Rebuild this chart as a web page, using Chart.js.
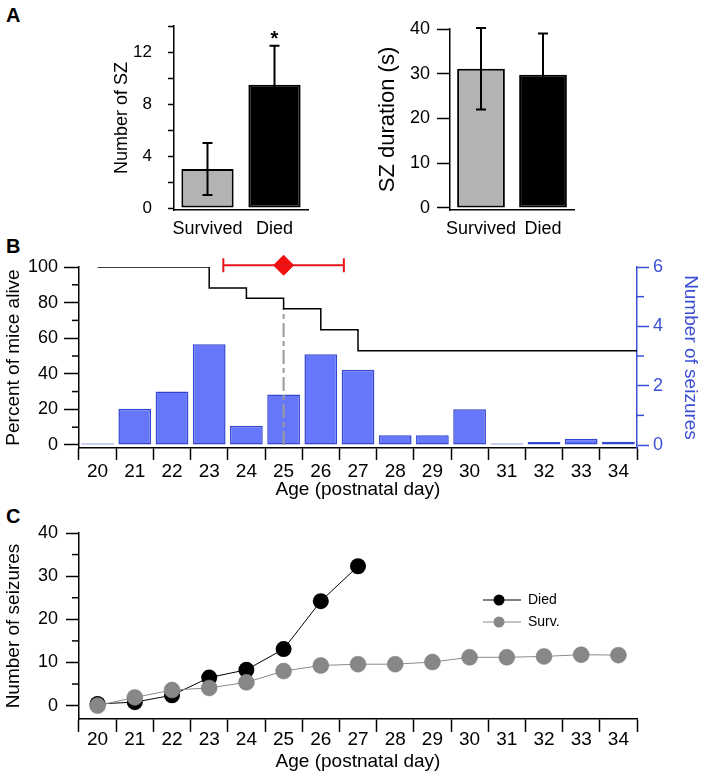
<!DOCTYPE html>
<html>
<head>
<meta charset="utf-8">
<script src="https://cdn.jsdelivr.net/npm/chart.js@4.4.1/dist/chart.umd.min.js"></script>
<style>
  body { margin: 0; background: #fff; width: 704px; height: 779px; position: relative; overflow: hidden; }
  canvas { position: absolute; }
  .lab { position: absolute; font: bold 20px "Liberation Sans", Arial, sans-serif; color: #000; }
</style>
</head>
<body>
<div class="lab" style="left:6px;top:4px">A</div>
<div class="lab" style="left:6px;top:235px">B</div>
<div class="lab" style="left:6px;top:505px">C</div>
<canvas id="szCount" width="340" height="240" style="left:0;top:0"></canvas>
<canvas id="szDuration" width="300" height="240" style="left:340px;top:0"></canvas>
<canvas id="survival" width="704" height="270" style="left:0;top:240px"></canvas>
<canvas id="cumulative" width="704" height="269" style="left:0;top:510px"></canvas>
<script>
// panel A
var groups = ['Survived', 'Died'];
var szCount = [3, 9.5];
var szCountSem = [2, 3];
var szDuration = [31.1, 29.8];
var szDurationSem = [9.1, 9.2];

// panel B
var ages = [20, 21, 22, 23, 24, 25, 26, 27, 28, 29, 30, 31, 32, 33, 34];
var seizuresPerDay = [0.05, 1.22, 1.8, 3.4, 0.65, 1.7, 3.06, 2.54, 0.33, 0.33, 1.21, 0.05, 0.1, 0.21, 0.11];
var pctAlive = [100, 100, 100, 88.2, 82.4, 76.5, 64.7, 52.9, 52.9, 52.9, 52.9, 52.9, 52.9, 52.9, 52.9];
var deathAgeMean = 25;
var deathAgeSem = 1.62;
var medianSurvival = 25;

// panel C
var diedCumulative = [0.4, 0.8, 2.4, 6.5, 8.3, 13.1, 24.2, 32.3];
var survCumulative = [0, 1.9, 3.6, 4.1, 5.4, 8.0, 9.3, 9.6, 9.6, 10.1, 11.2, 11.2, 11.4, 11.8, 11.7];

Chart.defaults.font.family = '"Liberation Sans", Arial, Helvetica, sans-serif';
Chart.defaults.color = '#000';
Chart.defaults.animation = false;

var blue = '#3b4fd6';

// error bars (and significance marks) drawn from dataset.errors
var errorBars = {
    id: 'errorBars',
    afterDatasetsDraw: function(chart) {
        var ctx = chart.ctx;
        chart.data.datasets.forEach(function(ds, di) {
            if (!ds.errors) return;
            var meta = chart.getDatasetMeta(di);
            var xs = chart.scales[meta.xAxisID];
            var ys = chart.scales[meta.yAxisID];
            ctx.save();
            ctx.strokeStyle = ds.errorColor || '#000';
            ctx.fillStyle = '#000';
            ctx.lineWidth = 2;
            meta.data.forEach(function(el, i) {
                var e = ds.errors[i];
                ctx.beginPath();
                if (ds.errorAxis === 'x') {
                    var v = ds.data[i].x;
                    var x0 = xs.getPixelForValue(v - e), x1 = xs.getPixelForValue(v + e);
                    ctx.moveTo(x0, el.y); ctx.lineTo(x1, el.y);
                    ctx.moveTo(x0, el.y - 7); ctx.lineTo(x0, el.y + 7);
                    ctx.moveTo(x1, el.y - 7); ctx.lineTo(x1, el.y + 7);
                } else {
                    var val = ds.data[i];
                    var y0 = ys.getPixelForValue(val - e), y1 = ys.getPixelForValue(val + e);
                    ctx.moveTo(el.x, y0); ctx.lineTo(el.x, y1);
                    ctx.moveTo(el.x - 5, y1); ctx.lineTo(el.x + 5, y1);
                    ctx.moveTo(el.x - 5, y0); ctx.lineTo(el.x + 5, y0);
                    if (ds.marks && ds.marks[i]) {
                        ctx.font = 'bold 20px "Liberation Sans", Arial';
                        ctx.textAlign = 'center';
                        ctx.textBaseline = 'alphabetic';
                        ctx.fillText(ds.marks[i], el.x, y1 - 1);
                    }
                }
                ctx.stroke();
            });
            ctx.restore();
        });
    }
};

// shorter ticks for unlabelled values: plugins.minorTicks = { scaleId: [length, colour] }
var minorTicks = {
    id: 'minorTicks',
    afterDraw: function(chart, args, opts) {
        var ctx = chart.ctx;
        Object.keys(opts).forEach(function(id) {
            var s = chart.scales[id];
            if (!s || !Array.isArray(opts[id])) return;
            var len = opts[id][0];
            var edge = s.position === 'left' ? s.right : s.left;
            var dir = s.position === 'left' ? -1 : 1;
            ctx.save();
            ctx.strokeStyle = opts[id][1];
            ctx.lineWidth = 1.5;
            s.ticks.forEach(function(t) {
                if (t.label !== '') return;
                var p = s.getPixelForValue(t.value);
                ctx.beginPath();
                ctx.moveTo(edge, p);
                ctx.lineTo(edge + dir * len, p);
                ctx.stroke();
            });
            ctx.restore();
        });
    }
};

function majorOnly(col) {
    return function(c) { return c.tick && c.tick.label === '' ? 'rgba(0,0,0,0)' : col; };
}
function fixW(w) { return function(s) { s.width = w; }; }
function fixH(h) { return function(s) { s.height = h; }; }

// A: number of seizures
new Chart(document.getElementById('szCount'), {
    type: 'bar',
    data: {
        labels: groups,
        datasets: [{
            data: szCount,
            errors: szCountSem,
            marks: ['', '*'],
            backgroundColor: ['#b3b3b3', '#000'],
            borderColor: '#000',
            borderWidth: 2,
            borderSkipped: false,
            barPercentage: 0.78,
            categoryPercentage: 1
        }]
    },
    options: {
        responsive: false,
        layout: { padding: { left: 111, top: 26, right: 32, bottom: 0 } },
        plugins: { legend: { display: false }, tooltip: { enabled: false } },
        scales: {
            x: {
                grid: { display: false },
                border: { display: true, color: '#000', width: 1.5 },
                ticks: { font: { size: 18 }, padding: 0, maxRotation: 0, autoSkip: false },
                afterFit: fixH(30)
            },
            y: {
                min: -0.15, max: 14,
                grid: { drawOnChartArea: false, tickLength: 6, color: '#000', tickWidth: 1.5 },
                border: { display: true, color: '#000', width: 1.5 },
                ticks: {
                    stepSize: 2, includeBounds: false, autoSkip: false, padding: 16,
                    font: { size: 17 },
                    callback: function(v) { return v % 4 === 0 ? v : ''; }
                },
                title: { display: true, text: 'Number of SZ', font: { size: 18 }, padding: 0 },
                afterFit: fixW(63)
            }
        }
    },
    plugins: [errorBars]
});

// A: seizure duration
new Chart(document.getElementById('szDuration'), {
    type: 'bar',
    data: {
        labels: groups,
        datasets: [{
            data: szDuration,
            errors: szDurationSem,
            backgroundColor: ['#b3b3b3', '#000'],
            borderColor: '#000',
            borderWidth: 2,
            borderSkipped: false,
            barPercentage: 0.77,
            categoryPercentage: 1
        }]
    },
    options: {
        responsive: false,
        layout: { padding: { left: 35, top: 29, right: 66, bottom: 0 } },
        plugins: { legend: { display: false }, tooltip: { enabled: false } },
        scales: {
            x: {
                grid: { display: false },
                border: { display: true, color: '#000', width: 1.5 },
                ticks: { font: { size: 18 }, padding: 0, maxRotation: 0, autoSkip: false },
                afterFit: fixH(30)
            },
            y: {
                min: -0.45, max: 40,
                grid: { drawOnChartArea: false, tickLength: 13, color: '#000', tickWidth: 1.5 },
                border: { display: true, color: '#000', width: 1.5 },
                ticks: { stepSize: 10, includeBounds: false, autoSkip: false, padding: 7, font: { size: 18 } },
                title: { display: true, text: 'SZ duration (s)', font: { size: 22 }, padding: 0 },
                afterFit: fixW(75)
            }
        }
    },
    plugins: [errorBars]
});

// B: survival and seizures per day
var stepData = ages.map(function(a, i) { return { x: a, y: pctAlive[i] }; });
stepData.push({ x: ages[ages.length - 1] + 0.5, y: pctAlive[pctAlive.length - 1] });

new Chart(document.getElementById('survival'), {
    type: 'bar',
    data: {
        labels: ages.map(String),
        datasets: [{
            type: 'line',
            data: [{ x: deathAgeMean, y: 101 }],
            errors: [deathAgeSem],
            errorAxis: 'x',
            errorColor: '#e8141c',
            xAxisID: 'x2', yAxisID: 'y',
            showLine: false,
            pointStyle: 'rectRot',
            pointRadius: 10,
            pointBackgroundColor: '#f01010',
            pointBorderColor: '#f01010',
            clip: false
        }, {
            type: 'line',
            data: stepData,
            xAxisID: 'x2', yAxisID: 'y',
            stepped: 'before',
            borderColor: '#000',
            borderWidth: 1.5,
            pointRadius: 0
        }, {
            type: 'line',
            data: [{ x: medianSurvival, y: 0 }, { x: medianSurvival, y: pctAlive[ages.indexOf(medianSurvival)] }],
            xAxisID: 'x2', yAxisID: 'y',
            borderColor: '#9a9a9a',
            borderWidth: 2,
            borderDash: [14, 4, 5, 4],
            pointRadius: 0
        }, {
            data: seizuresPerDay,
            xAxisID: 'x', yAxisID: 'y2',
            grouped: false,
            backgroundColor: '#6677fb',
            borderColor: '#3346d0',
            borderWidth: 1.5,
            borderSkipped: false,
            barPercentage: 0.88,
            categoryPercentage: 1
        }]
    },
    options: {
        responsive: false,
        layout: { padding: { left: 0, top: 27, right: 0, bottom: 5 } },
        plugins: {
            legend: { display: false }, tooltip: { enabled: false },
            minorTicks: { y: [7, '#000'], y2: [7, blue] }
        },
        scales: {
            x: {
                offset: true,
                grid: { offset: true, drawOnChartArea: false, tickLength: 12, color: '#000', tickWidth: 1.5 },
                border: { display: true, color: '#000', width: 1.5 },
                ticks: { autoSkip: false, maxRotation: 0, padding: 0, font: { size: 19 } },
                title: { display: true, text: 'Age (postnatal day)', font: { size: 19 }, padding: { top: 0, bottom: 4 } },
                afterFit: fixH(57)
            },
            x2: { type: 'linear', display: false, offset: false, min: 19.5, max: 34.5 },
            y: {
                position: 'left',
                min: -1.7, max: 100,
                grid: { drawOnChartArea: false, tickLength: 15, color: '#000', tickColor: majorOnly('#000'), tickWidth: 1.5 },
                border: { display: true, color: '#000', width: 1.5 },
                ticks: {
                    stepSize: 10, includeBounds: false, autoSkip: false, padding: 6,
                    font: { size: 18 },
                    callback: function(v) { return v % 20 === 0 ? v : ''; }
                },
                title: { display: true, text: 'Percent of mice alive', font: { size: 19 }, padding: { top: 2, bottom: 0 } },
                afterFit: fixW(79)
            },
            y2: {
                position: 'right',
                min: -0.1, max: 6,
                grid: { drawOnChartArea: false, tickLength: 12, color: blue, tickColor: majorOnly(blue), tickWidth: 1.5 },
                border: { display: true, color: blue, width: 1.5 },
                ticks: {
                    stepSize: 1, includeBounds: false, autoSkip: false, padding: 4,
                    color: blue, font: { size: 18 },
                    callback: function(v) { return v % 2 === 0 ? v : ''; }
                },
                title: { display: true, text: 'Number of seizures', color: blue, font: { size: 19 }, padding: { top: 2, bottom: 0 } },
                afterFit: fixW(67)
            }
        }
    },
    plugins: [errorBars, minorTicks]
});

// C: cumulative seizures
var lineLegend = {
    id: 'lineLegend',
    afterDraw: function(chart) {
        var ctx = chart.ctx, area = chart.chartArea;
        var x0 = area.left + 404, y0 = area.top + 67;
        ctx.save();
        chart.data.datasets.forEach(function(ds, i) {
            var y = y0 + i * 22;
            ctx.strokeStyle = ds.borderColor;
            ctx.lineWidth = 1;
            ctx.beginPath(); ctx.moveTo(x0, y); ctx.lineTo(x0 + 38, y); ctx.stroke();
            ctx.fillStyle = ds.pointBackgroundColor;
            ctx.beginPath(); ctx.arc(x0 + 16, y, 5.5, 0, Math.PI * 2); ctx.fill();
            ctx.fillStyle = '#000';
            ctx.font = '14px "Liberation Sans", Arial';
            ctx.textBaseline = 'middle';
            ctx.fillText(ds.label, x0 + 45, y);
        });
        ctx.restore();
    }
};

new Chart(document.getElementById('cumulative'), {
    type: 'line',
    data: {
        labels: ages.map(String),
        datasets: [{
            label: 'Died',
            data: diedCumulative,
            borderColor: '#000',
            borderWidth: 1,
            pointRadius: 8,
            pointBackgroundColor: '#000',
            pointBorderColor: '#000',
            pointBorderWidth: 0,
            order: 1
        }, {
            label: 'Surv.',
            data: survCumulative,
            borderColor: '#8a8a8a',
            borderWidth: 1,
            pointRadius: 8,
            pointBackgroundColor: '#878787',
            pointBorderColor: '#7a7a7a',
            pointBorderWidth: 0.5,
            order: 0
        }]
    },
    options: {
        responsive: false,
        layout: { padding: { left: 0, top: 23, right: 67, bottom: 2 } },
        plugins: {
            legend: { display: false }, tooltip: { enabled: false },
            minorTicks: { y: [7, '#000'] }
        },
        scales: {
            x: {
                offset: true,
                grid: { offset: true, drawOnChartArea: false, tickLength: 13, color: '#000', tickWidth: 1.5 },
                border: { display: true, color: '#000', width: 1.5 },
                ticks: { autoSkip: false, maxRotation: 0, padding: -4, font: { size: 19 } },
                title: { display: true, text: 'Age (postnatal day)', font: { size: 19 }, padding: { top: 0, bottom: 4 } },
                afterFit: fixH(58)
            },
            y: {
                min: -3.1, max: 40,
                grid: { drawOnChartArea: false, tickLength: 13, color: '#000', tickColor: majorOnly('#000'), tickWidth: 1.5 },
                border: { display: true, color: '#000', width: 1.5 },
                ticks: {
                    stepSize: 5, includeBounds: false, autoSkip: false, padding: 8,
                    font: { size: 18 },
                    callback: function(v) { return v % 10 === 0 ? v : ''; }
                },
                title: { display: true, text: 'Number of seizures', font: { size: 19 }, padding: { top: 2, bottom: 0 } },
                afterFit: fixW(79)
            }
        }
    },
    plugins: [lineLegend, minorTicks]
});
</script>
</body>
</html>
